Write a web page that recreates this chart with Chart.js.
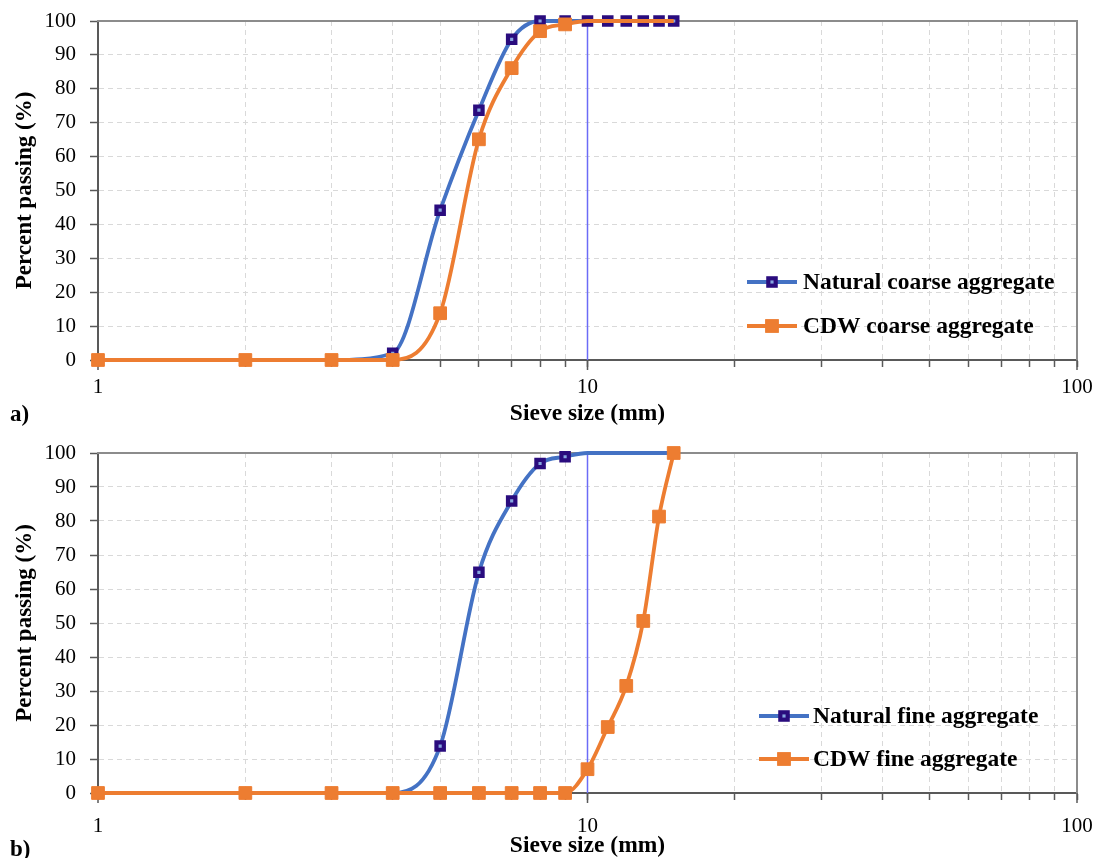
<!DOCTYPE html>
<html>
<head>
<meta charset="utf-8">
<script src="https://cdn.jsdelivr.net/npm/chart.js@4.4.1/dist/chart.umd.min.js"></script>
<style>
  body { margin: 0; background: #fff; width: 1099px; height: 858px; position: relative; overflow: hidden; }
  canvas { position: absolute; left: 0; }
  .tag { position: absolute; left: 10px; font: bold 23px "Liberation Serif", serif; line-height: 1; color: #000; }
</style>
</head>
<body>
<canvas id="pa" width="1099" height="430" style="top:0"></canvas>
<canvas id="pb" width="1099" height="425" style="top:433px"></canvas>
<div class="tag" style="top:402px">a)</div>
<div class="tag" style="top:837px">b)</div>
<script>
// Grain size distribution curves, two panels on a log sieve axis.

const SIZES = [1, 2, 3, 4, 5, 6, 7, 8, 9, 10, 11, 12, 13, 14, 15];
const NATURAL_COARSE = [0, 0, 0, 2, 44.2, 73.7, 94.6, 100, 100, 100, 100, 100, 100, 100, 100];
const CDW_COARSE = [0, 0, 0, 0, 13.8, 65.1, 86.1, 97, 99, 100, 100, 100, 100, 100, 100];
const NATURAL_FINE = [0, 0, 0, 0, 13.8, 64.9, 85.9, 96.9, 98.9, 100, 100, 100, 100, 100, 100];
const CDW_FINE = [0, 0, 0, 0, 0, 0, 0, 0, 0, 7, 19.4, 31.5, 50.6, 81.3, 100];
const X_TICKS = [1, 2, 3, 4, 5, 6, 7, 8, 9, 10, 20, 30, 40, 50, 60, 70, 80, 90, 100];
const X_LABELS = [1, 10, 100];
const LEGEND_A = ["Natural coarse aggregate", "CDW coarse aggregate"];
const LEGEND_B = ["Natural fine aggregate", "CDW fine aggregate"];

const FONT = '"Liberation Serif", "Times New Roman", serif';
const BLUE = "#4472c4", NAVY = "#2a0c7e", ORANGE = "#ed7d31", GRID = "#d9d9d9", AXIS = "#595959";

const pts = values => values.map((v, i) => ({ x: SIZES[i], y: v }));

// marked = largest sieve size that still gets a marker
function naturalSet(label, values, marked) {
  return {
    label, data: pts(values), order: 1, clip: false,
    borderColor: BLUE, borderWidth: 3.8, cubicInterpolationMode: "monotone",
    pointStyle: "rect", pointBorderColor: NAVY, pointBackgroundColor: "#86a6e0", pointBorderWidth: 4.2,
    pointRadius: c => SIZES[c.dataIndex] <= marked ? 5.2 : 0,
  };
}
function cdwSet(label, values, marked) {
  return {
    label, data: pts(values), order: 0, clip: false,
    borderColor: ORANGE, borderWidth: 3.8, cubicInterpolationMode: "monotone",
    pointStyle: "rect", pointBorderColor: ORANGE, pointBackgroundColor: ORANGE, pointBorderWidth: 1,
    pointRadius: c => SIZES[c.dataIndex] <= marked ? 9 : 0,
  };
}

// blue line at 10 mm, longer decade ticks, and the in-plot legend
const decor = {
  id: "decor",
  beforeDatasetsDraw(chart) {
    const { ctx, chartArea: a, scales: { x } } = chart;
    ctx.save();
    const p10 = x.getPixelForValue(10);
    ctx.strokeStyle = "#6b6bf7"; ctx.lineWidth = 1.5;
    ctx.beginPath(); ctx.moveTo(p10, a.top); ctx.lineTo(p10, a.bottom); ctx.stroke();
    ctx.strokeStyle = AXIS; ctx.lineWidth = 1.5;
    ctx.beginPath();
    for (const v of X_LABELS) {
      const p = x.getPixelForValue(v);
      ctx.moveTo(p, a.bottom); ctx.lineTo(p, a.bottom + 10);
    }
    ctx.stroke();
    ctx.restore();
  },
  afterDraw(chart, args, o) {
    const { ctx, chartArea: a } = chart;
    const x0 = a.right - o.inset;
    ctx.save();
    chart.data.datasets.forEach((ds, i) => {
      const y = a.bottom - o.rows[i];
      ctx.strokeStyle = ds.borderColor; ctx.lineWidth = ds.borderWidth;
      ctx.beginPath(); ctx.moveTo(x0, y); ctx.lineTo(x0 + 50, y); ctx.stroke();
      const s = (ds.order === 1 ? 5.2 : 9) * Math.SQRT1_2;
      ctx.fillStyle = ds.pointBackgroundColor; ctx.strokeStyle = ds.pointBorderColor;
      ctx.fillRect(x0 + 25 - s, y - s, 2 * s, 2 * s);
      ctx.lineWidth = ds.pointBorderWidth;
      ctx.strokeRect(x0 + 25 - s, y - s, 2 * s, 2 * s);
      ctx.fillStyle = "#000";
      ctx.font = `bold 23.5px ${FONT}`;
      ctx.textBaseline = "middle";
      ctx.fillText(ds.label, x0 + o.textGap, y + 1);
    });
    ctx.restore();
  },
};

function makePanel(id, datasets, p) {
  return new Chart(document.getElementById(id), {
    type: "line",
    data: { datasets },
    plugins: [decor],
    options: {
      responsive: false, animation: false, events: [],
      layout: { padding: { top: p.plotTop, right: 22, left: 0, bottom: 0 } },
      plugins: {
        legend: { display: false }, tooltip: { enabled: false },
        decor: { inset: p.inset, rows: p.rows, textGap: p.textGap },
      },
      scales: {
        x: {
          type: "logarithmic", min: 1, max: 100,
          afterBuildTicks: s => { s.ticks = X_TICKS.map(v => ({ value: v })); },
          afterFit: s => { s.height = p.xHeight; s.paddingLeft = 0; s.paddingRight = 0; },
          ticks: {
            autoSkip: false, maxRotation: 0, padding: p.xTickPad, color: "#000",
            font: { family: FONT, size: 21 },
            callback: v => X_LABELS.includes(v) ? String(v) : "",
          },
          grid: {
            color: c => X_LABELS.includes(c.tick && c.tick.value) ? "rgba(0,0,0,0)" : GRID,
            lineWidth: 1, tickLength: 7, tickColor: AXIS, tickWidth: 1.5,
          },
          border: { color: AXIS, width: 2, dash: [5, 4] },
          title: {
            display: true, text: "Sieve size (mm)", color: "#000",
            font: { family: FONT, size: 23.5, weight: "bold", lineHeight: 1 },
            padding: { top: 0, bottom: p.titlePad },
          },
        },
        y: {
          min: 0, max: 100,
          afterFit: s => { s.width = 98; s.paddingTop = 0; s.paddingBottom = 0; },
          ticks: { stepSize: 10, padding: 14, color: "#000", font: { family: FONT, size: 21 } },
          grid: {
            color: c => (c.tick && (c.tick.value === 0 || c.tick.value === 100)) ? "rgba(0,0,0,0)" : GRID,
            lineWidth: 1, tickLength: 8, tickColor: AXIS, tickWidth: 1.5,
          },
          border: { color: AXIS, width: 2, dash: [5, 4] },
          title: {
            display: true, text: "Percent passing (%)", color: "#000",
            font: { family: FONT, size: 23, weight: "bold", lineHeight: 1 },
            padding: { top: 14, bottom: 0 },
          },
        },
        x2: {
          position: "top", type: "linear", min: 0, max: 1,
          ticks: { display: false }, grid: { display: false, drawTicks: false },
          border: { display: true, color: "#8c8c8c", width: 2 },
          afterFit: s => { s.height = 0; s.paddingLeft = 0; s.paddingRight = 0; },
        },
        y2: {
          position: "right", type: "linear", min: 0, max: 1,
          ticks: { display: false }, grid: { display: false, drawTicks: false },
          border: { display: true, color: "#8c8c8c", width: 2 },
          afterFit: s => { s.width = 0; s.paddingTop = 0; s.paddingBottom = 0; },
        },
      },
    },
  });
}

makePanel("pa", [
  naturalSet(LEGEND_A[0], NATURAL_COARSE, 100),
  cdwSet(LEGEND_A[1], CDW_COARSE, 9),
], { plotTop: 21, xHeight: 70, xTickPad: 8, titlePad: 4, inset: 330, rows: [78, 34], textGap: 56 });

makePanel("pb", [
  naturalSet(LEGEND_B[0], NATURAL_FINE, 9),
  cdwSet(LEGEND_B[1], CDW_FINE, 100),
], { plotTop: 20, xHeight: 65, xTickPad: 14, titlePad: 0, inset: 318, rows: [77, 34], textGap: 54 });
</script>
</body>
</html>
